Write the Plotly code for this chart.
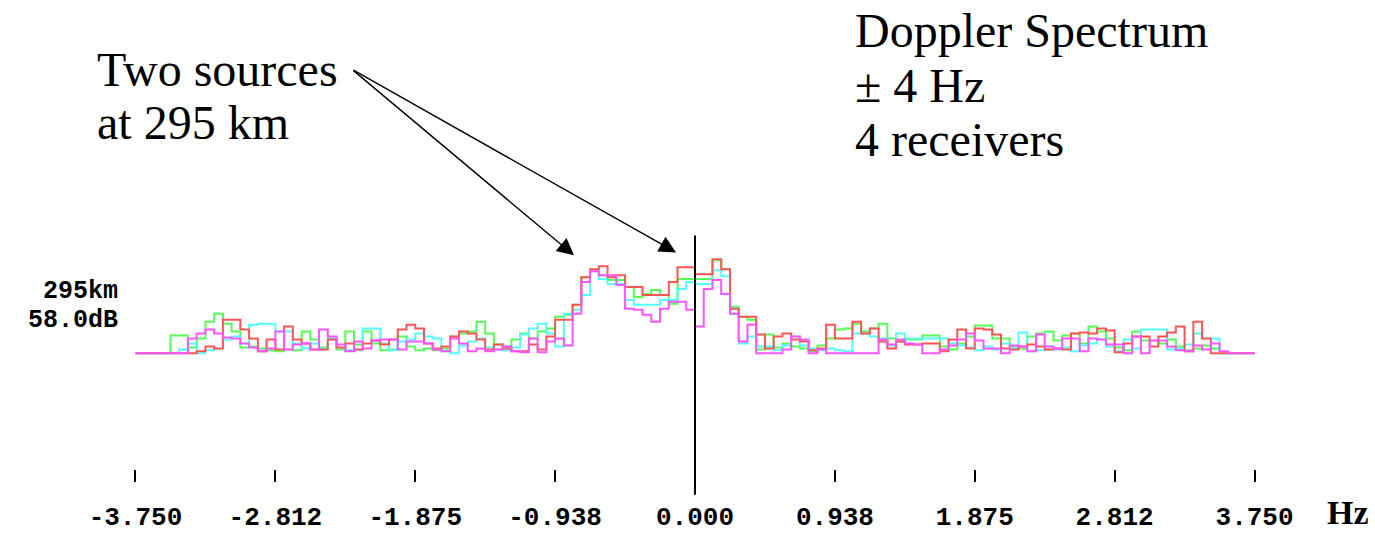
import plotly.graph_objects as go

# ---------------- data ----------------
FREQ_MIN, FREQ_MAX = -3.75, 3.75      # Hz, spectrum extent
AXIS_MIN, AXIS_MAX = -3.80, 3.80      # Hz, visible axis range
N_BINS = 128
ZERO_HZ = 0.0

tick_vals = [-3.750, -2.812, -1.875, -0.938, 0.0, 0.938, 1.875, 2.812, 3.750]
tick_text = ["-3.750", "-2.812", "-1.875", "-0.938", "0.000",
             "0.938", "1.875", "2.812", "3.750"]

# relative level above noise floor, one value per Doppler bin (128 bins)
green = [0, 0, 0, 0, 18, 18, 6, 15, 32, 40,
         30, 22, 6, 7, 5, 3, 2, 4, 3, 22,
         14, 6, 15, 4, 22, 9, 22, 10, 3, 4,
         17, 7, 3, 5, 3, 5, 17, 20, 22, 32,
         20, 9, 7, 14, 20, 15, 22, 25, 37, 39,
         49, 77, 84, 79, 74, 74, 67, 57, 60, 64,
         59, 50, 75, 75, 75, 75, 94, 85, 47, 37,
         34, 4, 19, 6, 10, 7, 5, 2, 8, 15,
         24, 25, 30, 22, 25, 30, 15, 12, 14, 14,
         18, 18, 7, 4, 10, 17, 28, 28, 15, 15,
         7, 5, 17, 20, 22, 13, 18, 20, 10, 27,
         22, 15, 6, 3, 22, 13, 13, 10, 14, 7,
         3, 5, 8, 5, 0, 0, 0, 0]

cyan = [0, 0, 0, 0, 0, 4, 10, 0, 3, 5,
        14, 17, 10, 29, 30, 30, 22, 22, 10, 5,
        10, 5, 15, 6, 3, 3, 25, 25, 10, 3,
        12, 14, 20, 17, 15, 2, 0, 8, 12, 15,
        6, 4, 3, 6, 19, 25, 30, 20, 7, 40,
        44, 59, 83, 75, 70, 70, 54, 49, 49, 49,
        54, 54, 65, 72, 70, 70, 84, 78, 40, 10,
        17, 7, 7, 3, 8, 17, 8, 5, 3, 5,
        3, 2, 20, 20, 17, 15, 8, 20, 15, 15,
        15, 15, 15, 10, 8, 6, 3, 7, 4, 10,
        5, 21, 2, 3, 7, 4, 6, 2, 8, 10,
        14, 7, 2, 14, 5, 24, 24, 24, 4, 5,
        9, 20, 15, 15, 0, 0, 0, 0]

red = [0, 0, 0, 0, 0, 0, 0, 2, 7, 5,
       34, 34, 24, 15, 2, 14, 4, 27, 14, 10,
       4, 4, 14, 6, 10, 4, 10, 13, 9, 14,
       24, 29, 25, 10, 5, 7, 17, 22, 20, 14,
       4, 9, 5, 2, 2, 9, 4, 17, 34, 34,
       49, 77, 85, 88, 77, 79, 67, 67, 59, 59,
       59, 72, 87, 87, 80, 80, 95, 85, 45, 37,
       37, 19, 5, 17, 20, 14, 12, 3, 5, 29,
       15, 15, 32, 20, 25, 12, 5, 12, 9, 9,
       10, 10, 2, 14, 24, 5, 25, 24, 19, 5,
       4, 7, 9, 7, 4, 5, 4, 20, 21, 20,
       25, 23, 1, 10, 17, 17, 7, 17, 21, 27,
       2, 32, 15, 0, 0, 0, 0, 0]

magenta = [0, 0, 0, 0, 0, 0, 15, 20, 24, 20,
           16, 15, 10, 6, 2, 5, 22, 4, 9, 10,
           4, 24, 17, 9, 2, 12, 5, 13, 14, 14,
           4, 12, 12, 10, 4, 2, 15, 10, 2, 5,
           2, 4, 7, 2, 1, 15, 1, 12, 15, 8,
           40, 72, 83, 79, 79, 69, 45, 44, 39, 32,
           45, 52, 52, 44, 27, 65, 74, 60, 40, 12,
           29, 0, 0, 0, 4, 17, 14, 0, 4, 0,
           0, 0, 0, 0, 0, 14, 9, 14, 10, 9,
           0, 0, 4, 8, 14, 20, 13, 5, 5, 0,
           8, 7, 2, 19, 7, 5, 15, 15, 2, 15,
           14, 9, 9, 0, 17, 0, 13, 13, 7, 3,
           2, 8, 4, 10, 2, 0, 0, 0]

series = [("Receiver 1", green, "#55FF55"),
          ("Receiver 2", cyan, "#55FFFF"),
          ("Receiver 3", red, "#FF5555"),
          ("Receiver 4", magenta, "#FF55FF")]

# ---------------- geometry helpers ----------------
W, H = 1375, 533
ML, MR, MT, MB = 128, 113, 0, 46
PW, PH = W - ML - MR, H - MT - MB


def px(xp):
    return (xp - ML) / PW


def py(yp):
    return (H - MB - yp) / PH


bin_w = (FREQ_MAX - FREQ_MIN) / N_BINS
edges = [FREQ_MIN + i * bin_w for i in range(N_BINS + 1)]

fig = go.Figure()
for name, vals, col in series:
    fig.add_trace(go.Scatter(
        x=edges, y=list(vals) + [vals[-1]], mode="lines", name=name,
        line=dict(color=col, width=2, shape="hv"), hoverinfo="skip"))

# zero-frequency marker line
fig.add_shape(type="line", xref="x", yref="paper", x0=ZERO_HZ, x1=ZERO_HZ,
              y0=py(500), y1=py(238), line=dict(color="black", width=2))

serif = "Liberation Serif, Times New Roman, serif"
mono = "Liberation Mono, Courier New, monospace"


def txt(s, xp, yp, size=48, family=serif, xanchor="left", bold=False):
    fig.add_annotation(text=s, xref="paper", yref="paper", x=px(xp), y=py(yp),
                       xanchor=xanchor, yanchor="middle", showarrow=False,
                       font=dict(family=family, size=size, color="black",
                                 weight="bold" if bold else "normal"))


txt("Two sources", 95, 70)
txt("at 295 km", 95, 124)
txt("Doppler Spectrum", 853, 31)
txt("± 4 Hz", 853, 86)
txt("4 receivers", 853, 141)
txt("295km", 120, 295, size=25, family=mono, xanchor="right", bold=True)
txt("58.0dB", 120, 324, size=25, family=mono, xanchor="right", bold=True)
txt("Hz", 1348, 518, size=34, family=serif, xanchor="center", bold=True)

# arrows
for tip in [(574, 258), (676, 255)]:
    tail = (352, 72)
    fig.add_annotation(text="", xref="paper", yref="paper",
                       x=px(tip[0]), y=py(tip[1]),
                       ax=tail[0] - tip[0], ay=tail[1] - tip[1],
                       axref="pixel", ayref="pixel",
                       showarrow=True, arrowhead=2, arrowsize=2.4,
                       arrowwidth=1.4, arrowcolor="black")

fig.update_layout(
    width=W, height=H, margin=dict(l=ML, r=MR, t=MT, b=MB),
    paper_bgcolor="white", plot_bgcolor="white", showlegend=False,
    xaxis=dict(range=[AXIS_MIN, AXIS_MAX], tickvals=tick_vals, ticktext=tick_text,
               ticks="inside", ticklen=12, tickwidth=2, tickcolor="black",
               showgrid=False, zeroline=False, showline=False,
               ticklabelstandoff=16,
               tickfont=dict(family=mono, size=26, color="black", weight="bold")),
    yaxis=dict(range=[-130, 357], visible=False, showgrid=False, zeroline=False),
)

fig.write_html("out.html")
